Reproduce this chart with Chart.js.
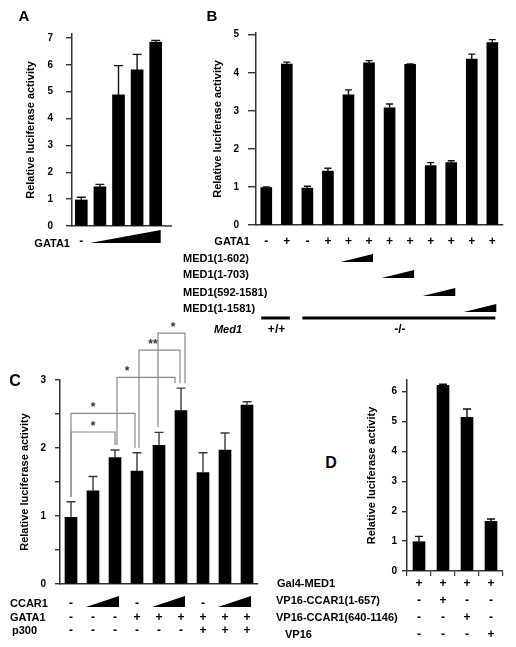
<!DOCTYPE html>
<html>
<head>
<meta charset="utf-8">
<title>Relative luciferase activity</title>
<script src="https://cdn.jsdelivr.net/npm/chart.js@4.4.1/dist/chart.umd.min.js"></script>
<style>
  body { margin: 0; background: #fff; }
  #page { position: relative; width: 516px; height: 647px; overflow: hidden;
          font-family: "Liberation Sans", Arial, Helvetica, sans-serif; font-weight: bold; color: #000; }
  #page canvas { position: absolute; }
  .t { position: absolute; white-space: nowrap; line-height: 1; }
</style>
</head>
<body>
<div id="page">
  <canvas id="chartA" width="180" height="250" style="left:0;top:0"></canvas>
  <canvas id="chartB" width="326" height="325" style="left:190px;top:0"></canvas>
  <canvas id="chartC" width="270" height="302" style="left:0;top:310px"></canvas>
  <canvas id="chartD" width="176" height="222" style="left:340px;top:360px"></canvas>
</div>
<script>
// ---- panel A: GATA1 dose
var labelsA = ['0', '1', '2', '3', '4'];
var valuesA = [0.97, 1.46, 4.88, 5.81, 6.85];
var errorsA = [0.1, 0.09, 1.09, 0.58, 0.06];
var ticksA = [0, 1, 2, 3, 4, 5, 6, 7];

// ---- panel B: Med1 +/+ and -/- cells with MED1 fragments
var labelsB = ['1', '2', '3', '4', '5', '6', '7', '8', '9', '10', '11', '12'];
var valuesB = [0.98, 4.23, 0.97, 1.42, 3.42, 4.26, 3.08, 4.22, 1.56, 1.64, 4.36, 4.79];
var errorsB = [0.02, 0.05, 0.05, 0.07, 0.13, 0.06, 0.1, 0.01, 0.08, 0.05, 0.13, 0.08];
var ticksB = [0, 1, 2, 3, 4, 5];
var gataB = ['-', '+', '-', '+', '+', '+', '+', '+', '+', '+', '+', '+'];
var medRowsB = [
  { name: 'MED1(1-602)', from: 4, to: 5 },
  { name: 'MED1(1-703)', from: 6, to: 7 },
  { name: 'MED1(592-1581)', from: 8, to: 9 },
  { name: 'MED1(1-1581)', from: 10, to: 11 }
];
var genotypeB = [
  { name: '+/+', from: 0, to: 1 },
  { name: '-/-', from: 2, to: 11 }
];

// ---- panel C: CCAR1 / GATA1 / p300
var labelsC = ['1', '2', '3', '4', '5', '6', '7', '8', '9'];
var valuesC = [0.98, 1.37, 1.86, 1.66, 2.04, 2.55, 1.64, 1.97, 2.63];
var errorsC = [0.23, 0.21, 0.11, 0.27, 0.19, 0.33, 0.29, 0.25, 0.05];
var ticksC = [0, 0.5, 1, 1.5, 2, 2.5, 3];
var ccarC = ['-', '', '', '-', '', '', '-', '', ''];
var ccarWedgesC = [[1, 2], [4, 5], [7, 8]];
var gataC = ['-', '-', '-', '+', '+', '+', '+', '+', '+'];
var p300C = ['-', '-', '-', '-', '-', '-', '+', '+', '+'];
var bracketsC = [
  { a: 0, da: 0, b: 2, db: 0, level: 2.235, mark: '*', sx: 22 },
  { a: 0, da: 0, b: 3, db: -2, level: 2.51, mark: '*', sx: 22 },
  { a: 2, da: 2, b: 5, db: -6, level: 3.04, mark: '*', sx: 10 },
  { a: 3, da: 2, b: 5, db: -1, level: 3.44, mark: '**', sx: 14 },
  { a: 4, da: -1, b: 5, db: 4, level: 3.69, mark: '*', sx: 15 }
];

// ---- panel D: two-hybrid
var labelsD = ['1', '2', '3', '4'];
var valuesD = [0.98, 6.21, 5.14, 1.66];
var errorsD = [0.18, 0.04, 0.28, 0.08];
var ticksD = [0, 1, 2, 3, 4, 5, 6];
var rowsD = [
  { name: 'Gal4-MED1', x: 277, y: 583, v: ['+', '+', '+', '+'] },
  { name: 'VP16-CCAR1(1-657)', x: 276, y: 600, v: ['-', '+', '-', '-'] },
  { name: 'VP16-CCAR1(640-1146)', x: 276, y: 617, v: ['-', '-', '+', '-'] },
  { name: 'VP16', x: 285, y: 634, v: ['-', '-', '-', '+'] }
];

Chart.defaults.font.family = '"Liberation Sans", Arial, Helvetica, sans-serif';
Chart.defaults.font.weight = 'bold';
Chart.defaults.color = '#000';
Chart.defaults.animation = false;
Chart.defaults.plugins.legend.display = false;
Chart.defaults.plugins.tooltip.enabled = false;

var page = document.getElementById('page');

var errorBars = {
  id: 'errorBars',
  afterDatasetsDraw: function (chart, args, o) {
    var ctx = chart.ctx, y = chart.scales.y;
    var vals = chart.data.datasets[0].data;
    ctx.save();
    ctx.strokeStyle = o.color;
    ctx.lineWidth = 1.4;
    chart.getDatasetMeta(0).data.forEach(function (bar, i) {
      var top = y.getPixelForValue(vals[i] + o.errors[i]);
      ctx.beginPath();
      ctx.moveTo(bar.x, bar.y);
      ctx.lineTo(bar.x, top);
      ctx.moveTo(bar.x - o.cap / 2, top);
      ctx.lineTo(bar.x + o.cap / 2, top);
      ctx.stroke();
    });
    ctx.restore();
  }
};

function wedge(ctx, x1, x2, yBottom, h) {
  ctx.beginPath();
  ctx.moveTo(x1, yBottom);
  ctx.lineTo(x2, yBottom);
  ctx.lineTo(x2, yBottom - h);
  ctx.closePath();
  ctx.fill();
}

function barChart(id, labels, values, errors, s) {
  return new Chart(document.getElementById(id), {
    type: 'bar',
    data: {
      labels: labels,
      datasets: [{ data: values, backgroundColor: '#000', borderWidth: 0, barThickness: s.barW }]
    },
    options: {
      responsive: false,
      layout: { padding: s.pad },
      scales: {
        x: {
          ticks: { display: false },
          grid: { display: !!s.xTicks, drawOnChartArea: false, tickLength: 5, color: '#333', lineWidth: 1.2 },
          border: { display: true, color: '#333', width: 1.5 },
          afterFit: function (sc) { sc.height = 0; }
        },
        y: {
          min: 0,
          max: s.max,
          afterBuildTicks: function (sc) {
            sc.ticks = s.ticks.map(function (v) { return { value: v }; });
          },
          ticks: {
            padding: s.tickPad,
            font: { size: 10, weight: 'bold' },
            callback: function (v) { return Number.isInteger(v) ? v : ''; }
          },
          grid: { drawOnChartArea: false, tickLength: s.tickLen, color: '#333', lineWidth: 1.4 },
          border: { color: '#333', width: 1.5 },
          title: {
            display: true,
            text: 'Relative luciferase activity',
            font: { size: 11, weight: 'bold' },
            padding: { top: s.titlePad, bottom: 0 }
          },
          afterFit: function (sc) { sc.width = s.yW; }
        }
      },
      plugins: { errorBars: { errors: errors, cap: s.cap, color: s.errColor } }
    },
    plugins: [errorBars].concat(s.extra ? [s.extra] : [])
  });
}

function txt(str, x, y, align, size, italic) {
  var d = document.createElement('div');
  d.className = 't';
  d.textContent = str;
  d.style.left = x + 'px';
  d.style.top = y + 'px';
  d.style.fontSize = (size || 11) + 'px';
  if (italic) d.style.fontStyle = 'italic';
  var tx = align === 'r' ? '-100%' : align === 'c' ? '-50%' : '0';
  d.style.transform = 'translate(' + tx + ',-50%)';
  page.appendChild(d);
  return d;
}

function barX(chart, left, i) {
  return left + chart.getDatasetMeta(0).data[i].x;
}

// ---------- A
var chartA = barChart('chartA', labelsA, valuesA, errorsA, {
  pad: { top: 34, right: 15, bottom: 24, left: 0 },
  yW: 72, max: 7.148, ticks: ticksA, tickLen: 6, tickPad: 13, titlePad: 24,
  barW: 12, cap: 9, errColor: '#111',
  extra: {
    id: 'extrasA',
    afterDraw: function (chart) {
      var ctx = chart.ctx, bars = chart.getDatasetMeta(0).data, area = chart.chartArea;
      ctx.save();
      ctx.strokeStyle = '#333';
      ctx.lineWidth = 1.5;
      ctx.beginPath();
      ctx.moveTo(area.right, area.bottom);
      ctx.lineTo(area.right + 7, area.bottom);
      ctx.stroke();
      ctx.fillStyle = '#000';
      wedge(ctx, bars[1].x - 10, bars[4].x + 5, 243, 13);
      ctx.restore();
    }
  }
});
txt('A', 24, 15, 'c', 15);
txt('GATA1', 70, 243, 'r', 11);
txt('-', barX(chartA, 0, 0), 241, 'c', 12);

// ---------- B
var topB = 0;
var chartB = barChart('chartB', labelsB, valuesB, errorsB, {
  pad: { top: 33, right: 13.4, bottom: 100, left: 0 },
  yW: 66, max: 5.045, ticks: ticksB, tickLen: 8, tickPad: 9, titlePad: 21,
  barW: 11, cap: 7, errColor: '#111',
  extra: {
    id: 'extrasB',
    afterDraw: function (chart) {
      var ctx = chart.ctx, bars = chart.getDatasetMeta(0).data;
      var bottoms = [262, 278, 296, 312];
      ctx.save();
      ctx.fillStyle = '#000';
      medRowsB.forEach(function (r, k) {
        wedge(ctx, bars[r.from].x - 8, bars[r.to].x + 4, bottoms[k] - topB, 8);
      });
      ctx.strokeStyle = '#000';
      ctx.lineWidth = 3;
      genotypeB.forEach(function (g) {
        ctx.beginPath();
        ctx.moveTo(bars[g.from].x - 5, 318 - topB);
        ctx.lineTo(bars[g.to].x + 3, 318 - topB);
        ctx.stroke();
      });
      ctx.restore();
    }
  }
});
txt('B', 212, 15, 'c', 15);
txt('GATA1', 250, 241, 'r', 11);
gataB.forEach(function (s, i) { txt(s, barX(chartB, 190, i), 241, 'c', 12); });
[258, 274, 292, 308].forEach(function (y, k) { txt(medRowsB[k].name, 183, y, 'l', 11); });
txt('Med1', 242, 329, 'r', 11, true);
genotypeB.forEach(function (g) {
  var mid = (barX(chartB, 190, g.from) + barX(chartB, 190, g.to)) / 2;
  txt(g.name, mid, 329, 'c', 12);
});

// ---------- C
var topC = 310;
var chartC = barChart('chartC', labelsC, valuesC, errorsC, {
  pad: { top: 70, right: 12, bottom: 28, left: 0 },
  yW: 60, max: 3, ticks: ticksC, tickLen: 5, tickPad: 9, titlePad: 18,
  barW: 12, cap: 9, errColor: '#3a3a3a',
  extra: {
    id: 'extrasC',
    afterDraw: function (chart) {
      var ctx = chart.ctx, bars = chart.getDatasetMeta(0).data, y = chart.scales.y;
      ctx.save();
      ctx.strokeStyle = '#8a8a8a';
      ctx.lineWidth = 1.2;
      bracketsC.forEach(function (b) {
        var yl = y.getPixelForValue(b.level);
        var xa = bars[b.a].x + b.da, xb = bars[b.b].x + b.db;
        var ya = y.getPixelForValue(valuesC[b.a] + errorsC[b.a]) - 5;
        var yb = y.getPixelForValue(valuesC[b.b] + errorsC[b.b]) - 5;
        ctx.beginPath();
        ctx.moveTo(xa, ya);
        ctx.lineTo(xa, yl);
        ctx.lineTo(xb, yl);
        ctx.lineTo(xb, yb);
        ctx.stroke();
      });
      ctx.fillStyle = '#000';
      ccarWedgesC.forEach(function (w) {
        wedge(ctx, bars[w[0]].x - 7, bars[w[1]].x + 4, 607 - topC, 11);
      });
      ctx.restore();
    }
  }
});
txt('C', 15, 381, 'c', 16);
bracketsC.forEach(function (b) {
  var yl = topC + chartC.scales.y.getPixelForValue(b.level);
  txt(b.mark, barX(chartC, 0, b.a) + b.da + b.sx, yl - 6, 'c', 12).style.color = '#333';
});
txt('CCAR1', 10, 603, 'l', 11);
txt('GATA1', 10, 617, 'l', 11);
txt('p300', 12, 630, 'l', 11);
ccarC.forEach(function (s, i) { if (s) txt(s, barX(chartC, 0, i), 603, 'c', 12); });
gataC.forEach(function (s, i) { txt(s, barX(chartC, 0, i), 617, 'c', 12); });
p300C.forEach(function (s, i) { txt(s, barX(chartC, 0, i), 630, 'c', 12); });

// ---------- D
var chartD = barChart('chartD', labelsD, valuesD, errorsD, {
  pad: { top: 20, right: 13, bottom: 9, left: 0 },
  yW: 67, max: 6.39, ticks: ticksD, tickLen: 5, tickPad: 5, titlePad: 25,
  barW: 12, cap: 8, errColor: '#111', xTicks: true
});
txt('D', 331, 463, 'c', 16);
rowsD.forEach(function (r) {
  txt(r.name, r.x, r.y, 'l', 11);
  r.v.forEach(function (s, i) { txt(s, barX(chartD, 340, i), r.y, 'c', 12); });
});
</script>
</body>
</html>
